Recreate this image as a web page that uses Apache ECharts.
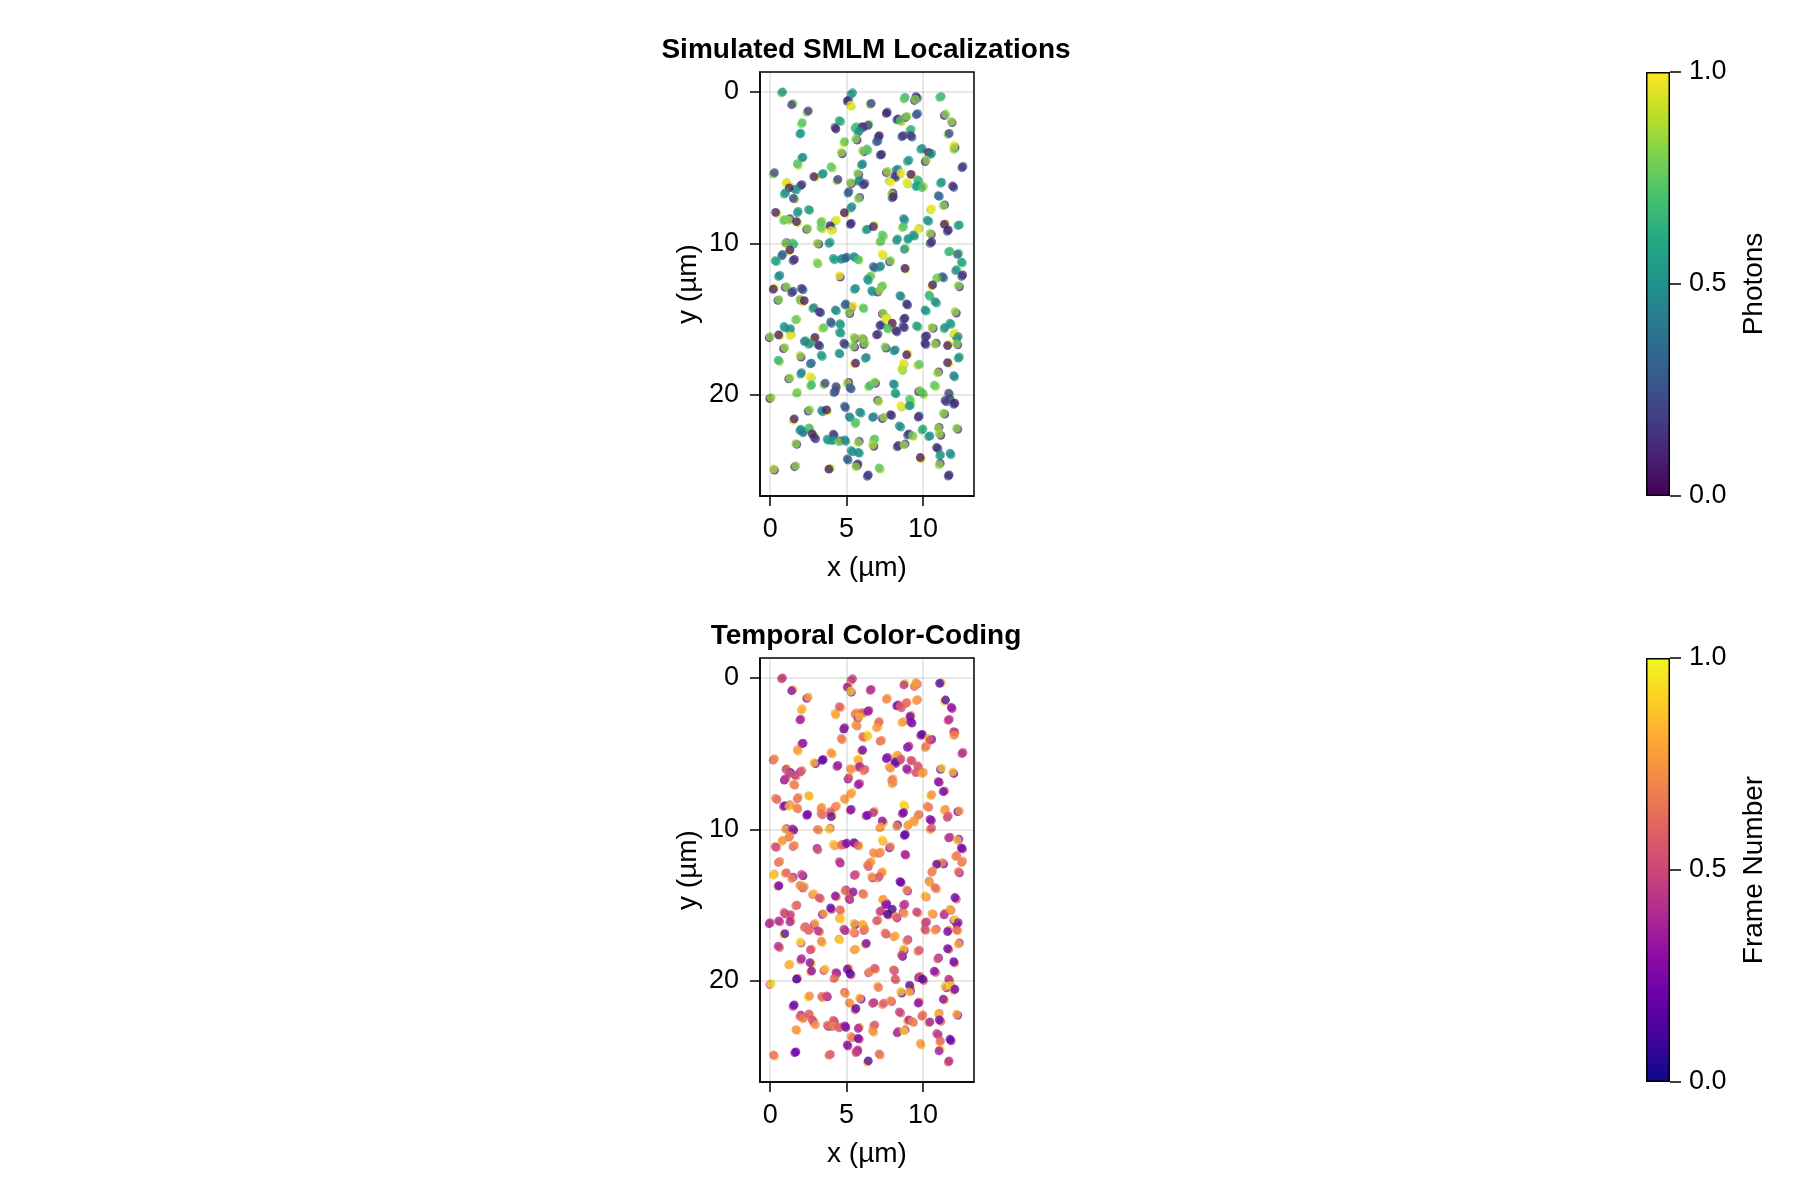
<!DOCTYPE html>
<html><head><meta charset="utf-8"><title>SMLM</title>
<script src="https://cdn.jsdelivr.net/npm/echarts@6/dist/echarts.min.js"></script>
<style>html,body{margin:0;padding:0;background:#fff}#c{width:1800px;height:1200px}</style></head>
<body><div id="c"></div>
<script>
const xTicks=[0,5,10];
const yTicks=[0,10,20];
const barTicks=[0,0.5,1];
const titles=["Simulated SMLM Localizations","Temporal Color-Coding"];
const barNames=["Photons","Frame Number"];
const viridis=["#440154","#482475","#414487","#355f8d","#2a788e","#21918c","#22a884","#44bf70","#7ad151","#bddf26","#fde725"];
const plasma=["#0d0887","#41049d","#6a00a8","#8f0da4","#b12a90","#cc4778","#e16462","#f1844b","#fca636","#fcce25","#f0f921"];
// localisation positions (um), top dot of each visible cluster
const xTop=[
.81,1.40,2.49,2.10,1.94,5.39,5.04,5.26,6.61,8.75,
9.54,9.50,11.09,11.48,11.85,7.60,8.38,8.51,8.95,9.56,
4.52,4.30,5.65,6.03,6.40,5.83,5.59,11.72,9.15,8.71,
9.19,7.14,6.96,4.87,12.01,12.03,9.95,10.35,10.48,10.22,
6.05,6.40,4.65,7.29,9.08,2.07,1.77,3.97,6.05,12.55,
.28,2.86,3.41,4.43,5.72,5.87,6.11,5.26,7.68,8.25,
8.16,8.56,9.21,7.88,8.93,9.65,9.63,9.93,11.22,11.94,
1.03,2.07,1.62,1.24,1.00,1.51,5.15,7.95,8.06,11.00,
5.76,5.35,4.85,10.57,11.33,.35,1.83,2.51,.96,1.22,
1.72,4.34,3.32,3.32,2.45,3.91,3.99,5.30,6.37,6.75,
8.73,8.73,10.28,11.40,11.66,12.38,9.65,9.37,9.06,7.33,
7.25,8.27,10.46,10.57,1.00,1.46,1.29,3.08,3.84,.81,
.33,1.59,8.78,7.33,11.77,12.25,12.51,7.88,4.13,4.65,
5.00,5.48,5.74,3.12,6.75,7.23,8.82,12.14,12.60,11.26,
10.89,10.63,4.52,.63,6.53,6.37,1.07,2.05,.20,5.59,
6.64,7.29,7.14,12.31,.57,1.40,1.94,2.23,8.49,8.93,
10.46,10.79,2.86,3.21,4.89,5.43,5.15,4.26,6.13,10.13,
12.09,7.40,7.55,8.82,3.95,4.56,3.51,1.66,.90,1.33,
7.18,7.99,7.68,8.23,8.78,9.58,10.59,11.44,11.77,4.63,
5.48,6.03,6.20,6.96,0,.55,1.29,2.93,3.14,2.60,
2.23,4.82,10.24,10.13,10.78,12.09,12.31,12.20,11.61,.96,
5.43,3.34,4.56,7.51,8.19,8.93,1.96,6.29,.52,2.62,
5.59,8.71,8.60,9.76,12.31,11.61,2.05,2.60,1.29,10.96,
12.01,3.60,5.04,5.22,2.71,4.30,4.17,6.53,6.83,8.06,
8.23,10.74,9.80,9.98,1.72,11.68,.07,9.12,7.10,11.44,
11.77,12.09,8.54,9.10,2.58,3.36,3.69,4.93,5.85,5.17,
5.61,6.70,7.44,7.88,11.33,9.69,1.57,8.45,10.00,11.00,
12.20,10.46,11.07,1.94,2.20,2.53,2.75,2.97,4.13,3.73,
4.13,4.50,4.89,9.08,9.30,5.76,6.85,6.70,1.68,8.38,
8.75,10.89,11.15,11.77,5.39,5.76,5.04,5.74,5.61,9.82,
1.68,.22,3.84,6.42,7.12,11.05,11.71];
const yTop=[
.02,.86,1.27,2.04,2.79,.07,.62,.88,.77,.48,
.33,.51,.37,1.47,1.96,1.43,1.80,1.89,1.63,1.52,
1.91,2.46,2.31,2.31,2.22,2.59,3.12,2.75,2.57,2.90,
2.90,2.90,3.30,3.30,3.56,3.80,3.74,4.00,4.13,4.51,
3.89,3.87,4.00,4.13,4.51,4.37,4.75,4.95,4.77,5.01,
5.34,5.60,5.45,5.78,5.39,5.87,6.15,6.00,5.25,5.17,
5.56,5.36,5.45,5.98,6.00,5.82,6.20,6.33,5.96,6.22,
6.04,6.13,6.42,6.35,6.66,7.03,6.59,6.75,6.92,6.86,
7.06,7.58,7.98,7.71,7.52,7.96,7.89,7.78,8.44,8.48,
8.57,8.46,8.62,8.95,9.01,8.84,9.17,8.68,9.06,8.90,
8.37,8.90,8.48,8.75,9.12,8.79,9.12,9.45,9.67,9.45,
9.85,9.80,9.34,9.91,10.00,9.98,10.44,10.00,10.00,10.73,
11.14,11.06,10.40,10.70,10.51,10.73,11.23,11.14,10.99,11.06,
10.92,10.88,11.06,11.36,11.54,11.50,11.65,11.80,12.09,12.20,
12.31,12.75,12.13,12.11,12.20,12.37,12.86,12.97,13.03,12.97,
13.12,12.86,13.12,12.79,13.71,13.25,13.69,13.78,13.45,14.00,
13.52,13.85,14.24,14.53,14.07,14.13,14.55,14.40,14.31,14.40,
14.50,14.61,14.99,14.94,15.19,15.30,15.56,15.05,15.49,15.63,
15.43,15.27,15.60,15.76,15.56,15.45,15.56,15.54,15.27,15.93,
16.20,16.26,16.59,16.04,16.15,16.04,16.11,16.20,16.70,16.59,
16.48,16.59,16.11,16.59,16.66,15.93,16.15,16.64,16.75,16.88,
16.77,17.38,17.30,16.83,17.03,17.36,17.41,17.52,17.71,17.96,
17.91,17.91,18.29,17.98,17.58,17.87,18.53,18.79,18.90,18.55,
18.73,19.23,19.23,19.52,19.34,19.45,19.85,19.38,19.16,19.27,
19.93,19.36,19.71,19.89,19.89,19.89,20.18,20.29,20.44,20.37,
20.29,20.55,20.70,20.73,20.99,21.03,20.99,20.84,21.14,21.43,
21.82,21.49,21.47,21.30,21.21,21.47,21.58,22.04,22.24,22.20,
22.20,22.70,22.57,22.35,22.42,22.18,22.57,22.90,22.59,22.92,
22.97,23.10,22.97,22.57,22.68,23.14,22.90,23.30,23.21,23.34,
23.30,23.47,23.96,23.85,23.76,23.80,24.22,24.55,24.73,24.13,
24.68,24.88,24.90,25.28,24.82,24.62,25.28];
// where the dot underneath each top dot sits relative to it (um)
const xUnderShift=[
-.08,.1,-.1,-.06,.07,-.1,.09,.05,-.07,.08,
.1,-.06,.1,-.09,.06,.07,-.1,.08,-.07,.09,
.1,-.06,-.1,.08,.06,-.09,.1,-.08,.07,-.1,
.09,-.07,.1,-.06,.08,.07,-.1,.06,.09,-.08,
.1,-.07,.06,-.09,-.1,.08,.06,.1,-.08,.07,
-.09,.1,.06,-.07,.08,-.1,.09,.06,-.08,.1,
.07,-.06,.09,-.1,.08,.06,-.09,.1,-.07,.08,
.06,-.1,.09,.07,-.08,.1,-.06,.08,-.09,.07,
.1,-.08,.06,-.07,.09,.1,-.06,.08,-.1,.07,
.09,-.08,.06,.1,-.07,.08,.09,-.06,-.1,.07,
.08,-.09,.1,.06,-.07,-.1,.09,.08,-.06,.1,
-.08,.07,.09,-.1,.06,.08,-.07,.1,.09,-.06,
.08,-.1,.07,.06,-.09,.1,.08,-.07,.09,.06,
-.1,.08,.07,-.06,.1,-.09,.06,.08,-.07,.1,
.09,-.06,.07,-.1,.08,.06,-.09,.1,.07,-.08,
.06,.09,-.1,.08,-.07,.1,.06,-.09,.08,.07,
-.06,.1,-.08,.09,.07,-.1,.06,.08,-.07,.09,
.1,-.06,.08,-.09,.07,.06,-.1,.09,.08,-.07,
.1,-.08,.06,.07,-.09,.1,.08,-.06,.07,-.1,
.09,.06,-.08,.1,-.07,.08,.09,-.06,.1,-.09,
.07,.08,-.1,.06,.09,-.07,-.1,.08,.06,-.09,
.1,.07,-.06,.08,-.1,.09,.06,-.07,.1,.08,
-.09,.06,.07,-.1,.08,.09,-.06,.1,-.08,.07,
.06,-.09,.1,.08,-.07,.06,.09,-.1,.07,.08,
-.06,.1,-.09,.07,.06,.08,-.1,.09,-.07,.1,
.06,-.08,.07,.09,-.1,.08,.06,-.07,.1,.09,
-.06,.08,-.1,.07,.09,.06,-.08,.1,-.07,.06,
.08,-.09,.1,.07,-.06,.08,.09,-.1,.06,.07,
-.08,.1,.06,-.09,.08,.07,-.1,.09,.06,-.07,
.08,.1,-.06,.07,-.09,.08,.06,-.1,.09,.07,
-.08,.06,.1,-.07,.09,.08,-.06];
const yUnderShift=[
.05,-.08,.1,.09,-.06,.1,-.07,.08,.06,-.1,
.09,.07,-.05,.1,.08,-.09,.06,.1,.07,-.08,
.06,-.1,.09,.05,-.07,.1,.08,.06,-.09,.07,
.1,.08,-.06,.09,.05,-.1,.07,.08,-.06,.1,
.07,-.09,.1,.06,.08,-.05,.1,.09,.06,-.08,
.1,.07,-.06,.09,.08,.05,-.1,.07,.09,-.06,
.1,.08,.05,-.09,.1,.07,.06,-.08,.09,.1,
-.05,.08,.07,-.1,.09,.06,.1,-.07,.08,.05,
-.09,.1,.07,.09,-.06,.08,.1,.05,.07,-.1,
.09,.06,-.08,.1,.07,.09,-.05,.08,.06,-.1,
.1,.07,.08,-.06,.09,.05,-.1,.08,.07,.1,
.06,-.09,.08,.1,-.05,.07,.09,.06,-.08,.1,
.07,.09,-.06,.1,.05,-.08,.07,.09,.1,-.06,
.08,.07,.05,-.1,.09,.08,.06,-.07,.1,.09,
-.05,.07,.1,.08,-.06,.09,.05,.1,-.08,.07,
.09,-.06,.1,.08,.05,-.09,.07,.1,.06,.08,
-.1,.09,.07,.05,-.08,.1,.09,.06,-.07,.08,
.1,.05,-.09,.07,.1,.08,.06,-.05,.09,.1,
-.07,.08,.06,.09,-.1,.07,.05,.1,.08,-.06,
.09,.07,.1,-.05,.08,.06,-.09,.1,.07,.08,
-.06,.1,.05,.09,-.07,.08,.1,.06,-.09,.07,
.08,.1,-.05,.09,.06,-.08,.1,.07,.09,-.06,
.05,.08,.1,.07,-.09,.06,.1,.08,.05,-.07,
.09,.1,-.06,.08,.07,.05,-.1,.09,.08,.06,
-.07,.1,.08,.09,-.05,.07,.06,.1,-.08,.09,
.05,.07,.1,-.06,.08,.09,.06,-.1,.07,.08,
.1,-.05,.09,.07,.06,-.08,.1,.08,.09,-.06,
.07,.05,.1,-.09,.08,.06,.07,-.1,.09,.08,
.05,-.07,.1,.09,.06,-.08,.07,.1,.05,.09,
-.06,.08,.07,.1,-.09,.05,.08,.09,-.07,.1,
.06,.08,-.05,.09,.07,-.1,.08];
const photonTop=[
.52,.18,.16,.72,.5,.52,.08,.98,.18,.74,
.1,.82,.72,.82,.84,.06,.08,.74,.82,.26,
.55,.08,.7,.1,.18,.48,.82,.2,.68,.14,
.14,.08,.26,.74,.98,.82,.52,.05,.45,.82,
.82,.74,.84,.08,.48,.45,.72,.74,.44,.14,
.2,.05,.48,.16,.82,.44,.12,.84,.84,.42,
.12,.98,.06,.98,.97,.7,.52,.72,.5,.1,
.98,.14,.5,.05,.48,.18,.28,.82,.06,.34,
.82,.46,.05,.99,.82,.06,.5,.52,.74,.84,
.05,.99,.74,.76,.82,.1,.98,.08,.5,.06,
.42,.7,.5,.05,.08,.5,.98,.48,.52,.72,
.74,.5,.84,.1,.82,.72,.05,.84,.52,.3,
.55,.1,.5,.99,.7,.3,.55,.82,.52,.46,
.3,.46,.7,.76,.28,.44,.05,.48,.12,.26,
.76,.05,.98,.44,.74,.48,.82,.14,.06,.48,
.5,.72,.84,.82,.82,.14,.84,.05,.44,.1,
.7,.45,.42,.12,.3,.98,.84,.44,.72,.5,
.84,.84,.99,.1,.28,.52,.74,.76,.5,.48,
.12,.05,.7,.1,.12,.52,.84,.46,.54,.5,
.84,.84,.82,.12,.84,.05,.98,.06,.12,.5,
.44,.16,.12,.1,.84,.98,.48,.82,.05,.84,
.82,.52,.5,.8,.44,.06,.86,.46,.62,.38,
.05,.98,.9,.74,.48,.06,.42,.99,.84,.84,
.42,.2,.84,.3,.66,.18,.3,.66,.82,.46,
.55,.74,.82,.72,.78,.2,.86,.72,.86,.14,
.18,.08,.98,.48,.82,.46,.05,.24,.44,.46,
.7,.4,.84,.1,.84,.12,.05,.44,.62,.84,
.82,.46,.84,.44,.42,.68,.06,.14,.16,.5,
.5,.82,.46,.12,.78,.84,.72,.88,.82,.12,
.84,.1,.52,.46,.46,.48,.3,.14,.84,.05,
.82,.88,.05,.12,.74,.84,.1];
const photonUnder=[
.8,.8,.82,.85,.6,.62,.3,.86,.8,.62,
.3,.12,.6,.1,.14,.3,.3,.9,.12,.34,
.7,.3,.62,.3,.8,.6,.1,.8,.6,.3,
.3,.3,.4,.95,.86,.12,.62,.97,.6,.1,
.12,.68,.1,.3,.6,.6,.85,.85,.55,.3,
.8,.97,.6,.82,.12,.55,.3,.1,.14,.5,
.3,.86,.96,.85,.88,.62,.6,.85,.62,.3,
.86,.3,.6,.96,.6,.8,.36,.1,.3,.38,
.14,.55,.97,.86,.1,.96,.6,.7,.82,.12,
.97,.8,.85,.9,.14,.3,.85,.3,.62,.98,
.55,.85,.6,.97,.3,.65,.85,.58,.6,.85,
.85,.6,.12,.3,.12,.6,.97,.12,.62,.36,
.65,.3,.85,.86,.62,.75,.7,.12,.62,.55,
.36,.55,.85,.9,.38,.55,.96,.7,.3,.4,
.9,.97,.1,.55,.85,.6,.12,.3,.95,.58,
.6,.85,.14,.1,.12,.3,.1,.97,.6,.3,
.6,.6,.7,.3,.36,.1,.12,.6,.85,.6,
.12,.1,.88,.3,.36,.62,.9,.85,.62,.6,
.3,.96,.85,.3,.3,.7,.12,.7,.6,.6,
.12,.14,.1,.3,.1,.97,.85,.96,.3,.62,
.55,.3,.3,.3,.12,.86,.3,.12,.97,.1,
.12,.65,.65,.1,.5,.97,.1,.6,.85,.3,
.97,.86,.78,.88,.62,.96,.58,.85,.14,.1,
.55,.8,.1,.2,.82,.82,.1,.82,.12,.6,
.62,.85,.12,.88,.85,.8,.1,.85,.14,.3,
.8,.3,.86,.65,.14,.55,.97,.4,.6,.55,
.85,.55,.12,.3,.1,.3,.95,.6,.7,.1,
.12,.6,.1,.55,.55,.85,.97,.3,.3,.6,
.6,.1,.6,.3,.9,.12,.85,.1,.14,.3,
.1,.3,.7,.6,.55,.6,.38,.3,.14,.97,
.12,.1,.9,.3,.85,.14,.3];
const frameTop=[
.45,.25,.8,.85,.35,.45,.3,.9,.4,.4,
.75,.78,.1,.12,.3,.7,.3,.6,.65,.75,
.55,.78,.72,.55,.3,.85,.75,.4,.15,.75,
.3,.6,.75,.35,.45,.7,.15,.82,.5,.65,
.6,.88,.65,.7,.35,.35,.75,.72,.2,.4,
.7,.85,.15,.3,.85,.35,.65,.72,.3,.82,
.12,.55,.5,.72,.3,.55,.6,.8,.9,.85,
.45,.6,.45,.55,.45,.72,.55,.65,.72,.3,
.3,.8,.75,.72,.2,.65,.7,.8,.2,.85,
.72,.75,.72,.65,.2,.6,.15,.25,.2,.4,
.92,.2,.7,.8,.55,.75,.7,.75,.8,.25,
.8,.72,.3,.55,.85,.35,.72,.68,.9,.72,
.5,.7,.15,.9,.45,.85,.2,.7,.85,.65,
.25,.22,.6,.55,.7,.75,.35,.7,.72,.7,
.15,.72,.45,.7,.72,.65,.6,.5,.9,.55,
.8,.7,.55,.65,.2,.7,.7,.72,.2,.72,
.8,.6,.85,.5,.65,.25,.5,.25,.7,.85,
.2,.75,.3,.45,.2,.6,.8,.65,.55,.45,
.45,.1,.1,.65,.75,.45,.8,.5,.8,.9,
.85,.85,.7,.55,.45,.4,.35,.8,.4,.65,
.65,.45,.45,.5,.75,.95,.3,.6,.2,.15,
.75,.7,.9,.65,.8,.65,.95,.2,.4,.5,
.8,.9,.45,.55,.8,.2,.35,.25,.85,.55,
.2,.85,.2,.12,.25,.4,.6,.72,.55,.6,
.6,.25,.5,.15,.1,.4,.95,.15,.65,.85,
.95,.2,.9,.85,.7,.6,.5,.75,.8,.7,
.15,.5,.55,.72,.25,.25,.2,.45,.68,.85,
.8,.35,.2,.6,.65,.55,.5,.75,.6,.65,
.7,.55,.3,.35,.72,.35,.55,.7,.75,.45,
.9,.5,.6,.15,.65,.2,.3,.4,.5,.75,
.2,.65,.6,.12,.6,.3,.4];
const frameUnder=[
.55,.85,.3,.75,.5,.55,.85,.25,.45,.9,
.6,.5,.75,.9,.4,.8,.2,.5,.55,.7,
.75,.85,.6,.8,.5,.3,.65,.5,.7,.85,
.2,.7,.85,.1,.35,.78,.35,.7,.2,.75,
.7,.95,.75,.55,.2,.3,.85,.82,.75,.5,
.55,.2,.3,.5,.7,.55,.5,.8,.2,.7,
.3,.4,.65,.8,.55,.65,.45,.72,.15,.2,
.95,.3,.7,.15,.2,.6,.3,.75,.8,.4,
.5,.7,.85,.9,.6,.55,.55,.95,.45,.65,
.6,.6,.8,.55,.35,.5,.95,.5,.4,.8,
.85,.4,.6,.65,.45,.2,.6,.8,.7,.8,
.7,.15,.2,.7,.3,.2,.6,.75,.55,.9,
.6,.55,.3,.75,.35,.25,.35,.2,.7,.5,
.4,.45,.85,.3,.85,.6,.5,.6,.6,.2,
.8,.6,.3,.55,.82,.5,.75,.2,.75,.35,
.3,.9,.7,.3,.6,.35,.82,.5,.25,.35,
.6,.75,.6,.7,.4,.85,.3,.7,.5,.65,
.55,.85,.2,.35,.45,.75,.25,.5,.3,.7,
.6,.85,.6,.3,.5,.7,.65,.3,.6,.75,
.2,.7,.5,.7,.3,.55,.75,.3,.7,.5,
.5,.3,.6,.7,.5,.4,.15,.8,.7,.95,
.5,.85,.7,.45,.7,.4,.5,.8,.6,.7,
.7,.25,.15,.7,.4,.6,.6,.9,.75,.3,
.55,.5,.75,.5,.8,.3,.75,.5,.7,.45,
.5,.6,.25,.6,.5,.65,.6,.85,.8,.3,
.4,.7,.2,.3,.9,.8,.3,.55,.2,.85,
.6,.3,.7,.5,.85,.6,.4,.6,.5,.6,
.3,.7,.55,.3,.8,.85,.7,.6,.25,.3,
.5,.7,.2,.8,.6,.7,.7,.85,.8,.3,
.4,.3,.8,.3,.75,.55,.45,.7,.3,.85,
.3,.8,.5,.9,.75,.9,.6];

const FONT='"Liberation Sans",Arial,sans-serif';
const LABEL=27;
const NAME=28;
const pts=(vals,under)=>xTop.map((x,i)=>under?[x+xUnderShift[i],yTop[i]+yUnderShift[i],vals[i]]:[x,yTop[i],vals[i]]);
const gradient=stops=>({type:'linear',x:0,y:1,x2:0,y2:0,colorStops:stops.map((c,i)=>({offset:i/(stops.length-1),color:c}))});
const panelTop=[72,658];
const grids=[],xAxes=[],yAxes=[],series=[],titleOpts=[],vms=[];
panelTop.forEach((top,k)=>{
  const vals=k===0?[photonUnder,photonTop]:[frameUnder,frameTop];
  const cmap=k===0?viridis:plasma;
  const g=k*2;
  grids.push({left:760,top:top,width:214,height:424,show:true,borderColor:'#000',borderWidth:1.5,backgroundColor:'transparent'});
  xAxes.push({gridIndex:g,type:'value',position:'bottom',min:-0.67,max:13.34,
    axisLine:{show:true,onZero:false,lineStyle:{color:'#000',width:1.5}},
    axisTick:{show:true,customValues:xTicks,length:10,lineStyle:{color:'#000',width:1.5}},
    axisLabel:{customValues:xTicks,margin:20,fontSize:LABEL,color:'#000',fontFamily:FONT},
    splitLine:{show:false},
    name:'x (µm)',nameLocation:'middle',nameGap:58,nameTextStyle:{fontSize:NAME,color:'#000',fontFamily:FONT}});
  yAxes.push({gridIndex:g,type:'value',inverse:true,position:'left',min:-1.3,max:26.67,
    axisLine:{show:true,onZero:false,lineStyle:{color:'#000',width:1.5}},
    axisTick:{show:true,customValues:yTicks,length:10,lineStyle:{color:'#000',width:1.5}},
    axisLabel:{customValues:yTicks,margin:21,fontSize:LABEL,color:'#000',fontFamily:FONT,padding:[5,0,0,0]},
    splitLine:{show:false},
    name:'y (µm)',nameLocation:'middle',nameGap:58,nameTextStyle:{fontSize:NAME,color:'#000',fontFamily:FONT}});
  grids.push({left:1646,top:top,width:24,height:424});
  xAxes.push({gridIndex:g+1,type:'category',data:['bar'],show:false});
  yAxes.push({gridIndex:g+1,type:'value',position:'right',min:0,max:1,interval:0.5,
    axisLine:{show:false},
    axisTick:{show:true,length:11,lineStyle:{color:'#000',width:1.5}},
    axisLabel:{margin:19,fontSize:LABEL,color:'#000',fontFamily:FONT,padding:[3,0,0,0],formatter:v=>v.toFixed(1)},
    splitLine:{show:false},
    name:barNames[k],nameLocation:'middle',nameGap:70,nameRotate:90,nameTextStyle:{fontSize:NAME,color:'#000',fontFamily:FONT}});
  titleOpts.push({text:titles[k],left:861,top:top-41,textAlign:'center',textStyle:{fontSize:28,fontWeight:'bold',color:'#000',fontFamily:FONT}});
  series.push({type:'line',xAxisIndex:g,yAxisIndex:g,data:[],silent:true,z:1,
    markLine:{silent:true,symbol:'none',label:{show:false},animation:false,
      lineStyle:{color:'rgba(0,0,0,0.12)',width:1.5,type:'solid'},
      data:xTicks.map(v=>({xAxis:v})).concat(yTicks.map(v=>({yAxis:v})))}});
  const i0=series.length;
  series.push({type:'scatter',xAxisIndex:g,yAxisIndex:g,data:pts(vals[0],true),symbolSize:8.8,itemStyle:{opacity:0.75},z:2,silent:true});
  series.push({type:'scatter',xAxisIndex:g,yAxisIndex:g,data:pts(vals[1],false),symbolSize:8.8,itemStyle:{opacity:0.75},z:3,silent:true});
  vms.push({type:'continuous',show:false,min:0,max:1,dimension:2,seriesIndex:[i0,i0+1],inRange:{color:cmap}});
  series.push({type:'bar',xAxisIndex:g+1,yAxisIndex:g+1,data:barTicks.slice(2),barWidth:'100%',silent:true,
    itemStyle:{color:gradient(cmap),borderColor:'#000',borderWidth:1.5}});
});
const chart=echarts.init(document.getElementById('c'),null,{renderer:'canvas'});
chart.setOption({backgroundColor:'#fff',animation:false,title:titleOpts,grid:grids,xAxis:xAxes,yAxis:yAxes,visualMap:vms,series:series});
</script></body></html>
